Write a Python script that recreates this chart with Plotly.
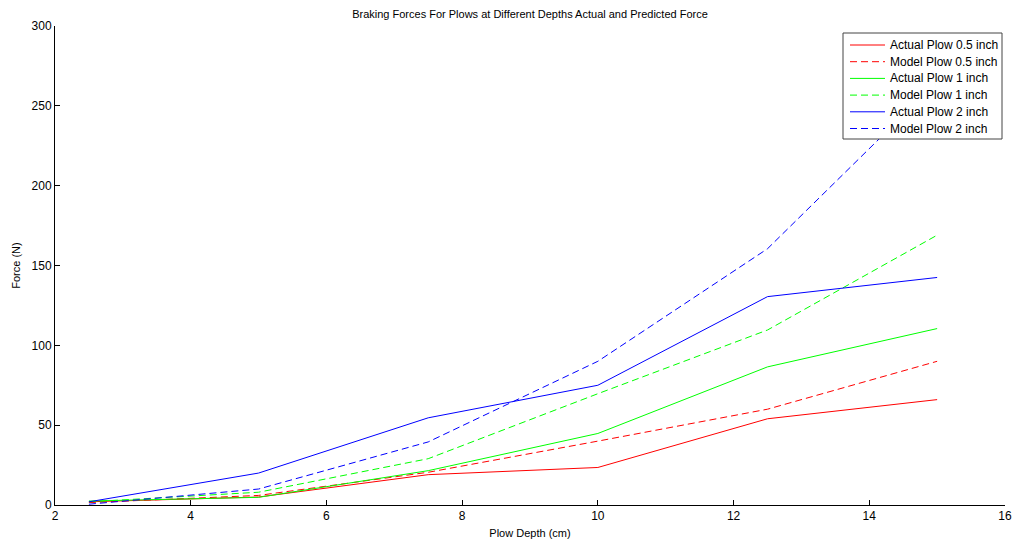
import plotly.graph_objects as go

# Plow depth (cm) at which each force was measured / predicted
depth_cm = [2.5, 5, 7.5, 10, 12.5, 15]

# Braking force (N) for each plow size
actual_half = [2, 5, 19, 23.5, 54, 66]
model_half = [1.5, 6, 20.5, 40, 60, 90]
actual_one = [2.5, 4.8, 21.5, 44.8, 86.5, 110.5]
model_one = [2, 8, 29, 69.7, 109.6, 169]
actual_two = [2, 20, 54.6, 75, 130.5, 142.5]
model_two = [0.5, 10, 39.5, 90, 160.5, 265]

series_names = ["Actual Plow 0.5 inch", "Model Plow 0.5 inch", "Actual Plow 1 inch",
                "Model Plow 1 inch", "Actual Plow 2 inch", "Model Plow 2 inch"]
series_values = [actual_half, model_half, actual_one, model_one, actual_two, model_two]
series_colors = ["#ff0000", "#ff0000", "#00ff00", "#00ff00", "#0000ff", "#0000ff"]
series_dash = ["solid", "7px,4px", "solid", "7px,4px", "solid", "7px,4px"]

W, H = 1029, 543
L, R, T, B = 55, 24, 26, 38
plot_w, plot_h = W - L - R, H - T - B


def px_x(p):
    return (p - L) / plot_w


def px_y(p):
    return 1 - (p - T) / plot_h


font_family = "Liberation Sans, Arial, sans-serif"
axis_font = dict(family=font_family, size=12, color="#000000")

fig = go.Figure()
for name, values, color, dash in zip(series_names, series_values, series_colors, series_dash):
    fig.add_trace(go.Scatter(
        x=depth_cm, y=values, name=name, mode="lines",
        line=dict(color=color, width=1, dash=dash), showlegend=False,
    ))

# Boxed legend in the upper right corner
shapes = [dict(type="rect", xref="paper", yref="paper",
               x0=px_x(843), x1=px_x(1002), y0=px_y(139), y1=px_y(33),
               line=dict(color="#444444", width=1), fillcolor="white", layer="above")]
annotations = []
for i, (name, color, dash) in enumerate(zip(series_names, series_colors, series_dash)):
    cy = 45 + i * 16.7
    shapes.append(dict(type="line", xref="paper", yref="paper",
                       x0=px_x(850), x1=px_x(885), y0=px_y(cy), y1=px_y(cy),
                       line=dict(color=color, width=1, dash=dash), layer="above"))
    annotations.append(dict(xref="paper", yref="paper", x=px_x(888), y=px_y(cy),
                            text=name, showarrow=False, xanchor="left", yanchor="middle",
                            font=dict(family=font_family, size=12, color="#000000")))

fig.update_layout(
    width=W, height=H,
    margin=dict(l=L, r=R, t=T, b=B),
    paper_bgcolor="white", plot_bgcolor="white",
    font=axis_font,
    showlegend=False,
    shapes=shapes,
    annotations=annotations,
    title=dict(
        text="Braking Forces For Plows at Different Depths Actual and Predicted Force",
        x=(L + 1005) / 2 / W, xanchor="center", y=1 - 14 / H, yanchor="middle",
        font=dict(family=font_family, size=11, color="#000000"),
    ),
    xaxis=dict(
        range=[2, 16], tickvals=[2, 4, 6, 8, 10, 12, 14, 16],
        showgrid=False, zeroline=False, showline=True, linecolor="#000000", linewidth=1,
        ticks="inside", ticklen=5, tickcolor="#000000", mirror=False, automargin=False,
        title=dict(text="Plow Depth (cm)", font=dict(size=11), standoff=6),
        tickfont=axis_font,
    ),
    yaxis=dict(
        range=[0, 300], tickvals=[0, 50, 100, 150, 200, 250, 300],
        showgrid=False, zeroline=False, showline=True, linecolor="#000000", linewidth=1,
        ticks="inside", ticklen=5, tickcolor="#000000", mirror=False, automargin=False,
        title=dict(text="Force (N)", font=dict(size=11), standoff=8),
        tickfont=axis_font,
    ),
)

fig.write_html("out.html")
